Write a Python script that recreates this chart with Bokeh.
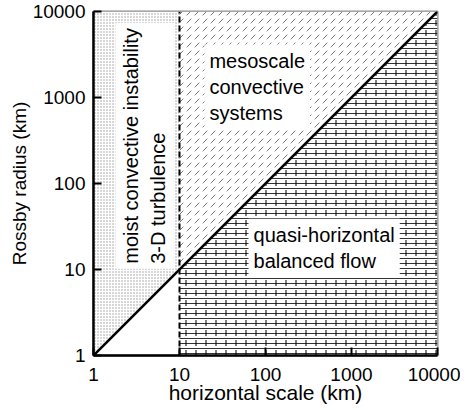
from bokeh.plotting import figure
from bokeh.embed import file_html
from bokeh.resources import INLINE
from bokeh.core.properties import value
from bokeh.models import FixedTicker

# ---- data ----
scale_ticks = [1, 10, 100, 1000, 10000]
tick_labels = ["1", "10", "100", "1000", "10000"]
scale_min = 1          # km
scale_max = 10000      # km
convective_limit = 10  # km, dashed boundary
# diagonal: Rossby radius equals horizontal scale
diag_x = [1, 10000]
diag_y = [1, 10000]

FONT = "Liberation Sans"

p = figure(width=460, height=408, x_axis_type="log", y_axis_type="log",
           x_range=(scale_min, scale_max), y_range=(scale_min, scale_max),
           output_backend="svg", toolbar_location=None,
           min_border_left=93, min_border_top=11, min_border_right=23, min_border_bottom=53)
p.grid.visible = False
p.background_fill_color = "white"
p.outline_line_color = "#8c8c8c"
p.outline_line_width = 2

b = convective_limit
# dotted region: small scales above the diagonal
p.patch([scale_min, b, b, scale_min], [scale_min, b, scale_max, scale_max],
        fill_color="white", line_color=None,
        hatch_pattern="dot", hatch_scale=3, hatch_color="#9a9a9a", hatch_weight=0.5)
# mesoscale region: above diagonal, right of boundary
p.patch([b, scale_max, b], [b, scale_max, scale_max],
        fill_color="white", line_color=None,
        hatch_pattern="right_diagonal_dash", hatch_scale=8, hatch_color="#777777", hatch_weight=1)
# quasi-horizontal balanced flow: below diagonal, right of boundary
p.patch([b, scale_max, scale_max, b], [b, scale_max, scale_min, scale_min],
        fill_color="white", line_color=None,
        hatch_pattern="horizontal_line", hatch_scale=5, hatch_color="#333333", hatch_weight=1)
p.patch([b, scale_max, scale_max, b], [b, scale_max, scale_min, scale_min],
        fill_color=None, line_color=None,
        hatch_pattern="vertical_dash", hatch_scale=10, hatch_color="#000000", hatch_weight=1)

p.line(diag_x, diag_y, line_color="black", line_width=2.5)
p.line([b, b], [scale_min, scale_max], line_color="black", line_width=2, line_dash="6 3")

common = dict(text_font=value(FONT), text_font_size=value("20px"), text_color="black",
              background_fill_color="white", padding=5, text_line_height=1.2)
p.text(x=[1.8], y=[10.2], text=["moist convective instability\n3-D turbulence"],
       angle=1.5708, text_align="left", text_baseline="top", **common)
p.text(x=[19.5], y=[4130], text=["mesoscale\nconvective\nsystems"],
       text_align="left", text_baseline="top", **common)
p.text(x=[63.5], y=[39], text=["quasi-horizontal\nbalanced flow"],
       text_align="left", text_baseline="top", **common)

overrides = {t: l for t, l in zip(scale_ticks, tick_labels)}
for ax in (p.xaxis[0], p.yaxis[0]):
    ax.ticker = FixedTicker(ticks=scale_ticks, minor_ticks=[])
    ax.major_label_overrides = overrides
    ax.axis_line_color = "black"
    ax.axis_line_width = 2.5
    ax.major_tick_in = 8
    ax.major_tick_out = 0
    ax.major_tick_line_width = 2
    ax.major_tick_line_color = "black"
    ax.major_label_text_font = FONT
    ax.major_label_text_font_size = "19px"
    ax.major_label_text_color = "black"
    ax.axis_label_text_font = FONT
    ax.axis_label_text_font_style = "normal"
    ax.axis_label_text_color = "black"

p.xaxis.axis_label = "horizontal scale (km)"
p.xaxis.axis_label_text_font_size = "21px"
p.xaxis.major_label_standoff = 12
p.xaxis.axis_label_standoff = -3
p.yaxis.axis_label = "Rossby radius (km)"
p.yaxis.axis_label_text_font_size = "19px"
p.yaxis.major_label_standoff = 8
p.yaxis.axis_label_standoff = 0

open("out.html", "w").write(file_html(p, INLINE))
